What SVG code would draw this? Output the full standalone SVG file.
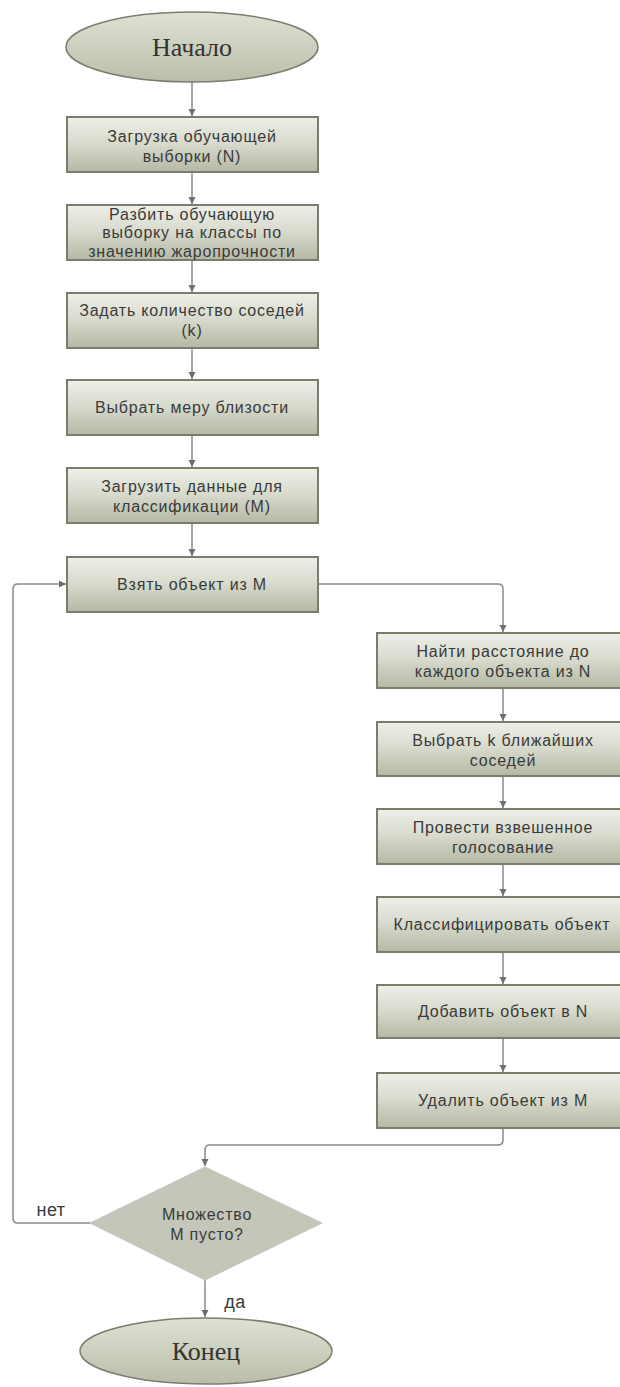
<svg xmlns="http://www.w3.org/2000/svg" width="620" height="1387" viewBox="0 0 620 1387">
<defs>
<linearGradient id="gb" x1="0" y1="0" x2="0" y2="1">
<stop offset="0" stop-color="#eef0e8"/>
<stop offset="0.5" stop-color="#d6d9cb"/>
<stop offset="1" stop-color="#b4b8a4"/>
</linearGradient>
<linearGradient id="ge" x1="0" y1="0" x2="0" y2="1">
<stop offset="0" stop-color="#dfe2d4"/>
<stop offset="1" stop-color="#b9bda9"/>
</linearGradient>
<marker id="ar" markerWidth="8" markerHeight="8" refX="7" refY="4" orient="auto" markerUnits="userSpaceOnUse">
<path d="M0,0.5 L7,4 L0,7.5 z" fill="#6e6e6e"/>
</marker>
<style>
.box{fill:url(#gb);stroke:#7a7d6c;stroke-width:2}
.term{fill:url(#ge);stroke:#7a7d6c;stroke-width:1.5}
.dia{fill:#c3c6b8;stroke:#c3c6b8;stroke-width:1}
.t{font-family:"Liberation Sans",Arial,sans-serif;font-size:16px;letter-spacing:0.8px;fill:#3a3a3a;text-anchor:middle}
.tt{font-family:"Liberation Serif","Times New Roman",serif;font-size:26px;fill:#333;text-anchor:middle}
.lb{font-family:"Liberation Sans",Arial,sans-serif;font-size:18px;letter-spacing:0.5px;fill:#3a3a3a;text-anchor:middle}
.c{fill:none;stroke:#8a8a8a;stroke-width:1.5}
</style>
</defs>
<g id="connectors">
<path class="c" d="M192,82 V116" marker-end="url(#ar)"/>
<path class="c" d="M192,172 V204" marker-end="url(#ar)"/>
<path class="c" d="M192,260 V292" marker-end="url(#ar)"/>
<path class="c" d="M192,348 V379" marker-end="url(#ar)"/>
<path class="c" d="M192,435 V467" marker-end="url(#ar)"/>
<path class="c" d="M192,523 V556" marker-end="url(#ar)"/>
<path class="c" d="M318,584 H498 Q503,584 503,589 V632" marker-end="url(#ar)"/>
<path class="c" d="M503,688 V721" marker-end="url(#ar)"/>
<path class="c" d="M503,776 V808" marker-end="url(#ar)"/>
<path class="c" d="M503,864 V896" marker-end="url(#ar)"/>
<path class="c" d="M503,952 V984" marker-end="url(#ar)"/>
<path class="c" d="M503,1038 V1072" marker-end="url(#ar)"/>
<path class="c" d="M503,1128 V1140 Q503,1145 498,1145 H210 Q205,1145 205,1150 V1166" marker-end="url(#ar)"/>
<path class="c" d="M90,1223 H18 Q13,1223 13,1218 V589 Q13,584 18,584 H66" marker-end="url(#ar)"/>
<path class="c" d="M205,1280 V1317" marker-end="url(#ar)"/>
<text class="lb" x="51" y="1216">нет</text>
<text class="lb" x="235" y="1308">да</text>
</g>
<g id="start">
<ellipse class="term" cx="192" cy="47" rx="126" ry="35"/>
<text class="tt" x="192" y="56">Начало</text>
</g>
<g id="n1">
<rect class="box" x="67" y="117" width="251" height="55"/>
<text class="t" x="192" y="142">Загрузка обучающей</text>
<text class="t" x="192" y="162">выборки (N)</text>
</g>
<g id="n2">
<rect class="box" x="67" y="205" width="251" height="55"/>
<text class="t" x="192" y="220">Разбить обучающую</text>
<text class="t" x="192" y="238">выборку на классы по</text>
<text class="t" x="192" y="257">значению жаропрочности</text>
</g>
<g id="n3">
<rect class="box" x="67" y="293" width="251" height="55"/>
<text class="t" x="192" y="316">Задать количество соседей</text>
<text class="t" x="192" y="336">(k)</text>
</g>
<g id="n4">
<rect class="box" x="67" y="380" width="251" height="55"/>
<text class="t" x="192" y="413">Выбрать меру близости</text>
</g>
<g id="n5">
<rect class="box" x="67" y="468" width="251" height="55"/>
<text class="t" x="192" y="492">Загрузить данные для</text>
<text class="t" x="192" y="512">классификации (M)</text>
</g>
<g id="n6">
<rect class="box" x="67" y="557" width="251" height="55"/>
<text class="t" x="192" y="590">Взять объект из M</text>
</g>
<g id="n7">
<rect class="box" x="377" y="633" width="252" height="55"/>
<text class="t" x="503" y="657">Найти расстояние до</text>
<text class="t" x="503" y="677">каждого объекта из N</text>
</g>
<g id="n8">
<rect class="box" x="377" y="722" width="252" height="54"/>
<text class="t" x="503" y="746">Выбрать k ближайших</text>
<text class="t" x="503" y="766">соседей</text>
</g>
<g id="n9">
<rect class="box" x="377" y="809" width="252" height="55"/>
<text class="t" x="503" y="833">Провести взвешенное</text>
<text class="t" x="503" y="853">голосование</text>
</g>
<g id="n10">
<rect class="box" x="377" y="897" width="252" height="55"/>
<text class="t" x="502" y="930">Классифицировать объект</text>
</g>
<g id="n11">
<rect class="box" x="377" y="985" width="252" height="53"/>
<text class="t" x="503" y="1017">Добавить объект в N</text>
</g>
<g id="n12">
<rect class="box" x="377" y="1073" width="252" height="55"/>
<text class="t" x="503" y="1106">Удалить объект из M</text>
</g>
<g id="decision">
<polygon class="dia" points="205,1167 322,1223 205,1280 90,1223"/>
<text class="t" x="207" y="1220">Множество</text>
<text class="t" x="207" y="1240">M пусто?</text>
</g>
<g id="end">
<ellipse class="term" cx="206" cy="1351" rx="126" ry="33"/>
<text class="tt" x="206" y="1360">Конец</text>
</g>
</svg>
